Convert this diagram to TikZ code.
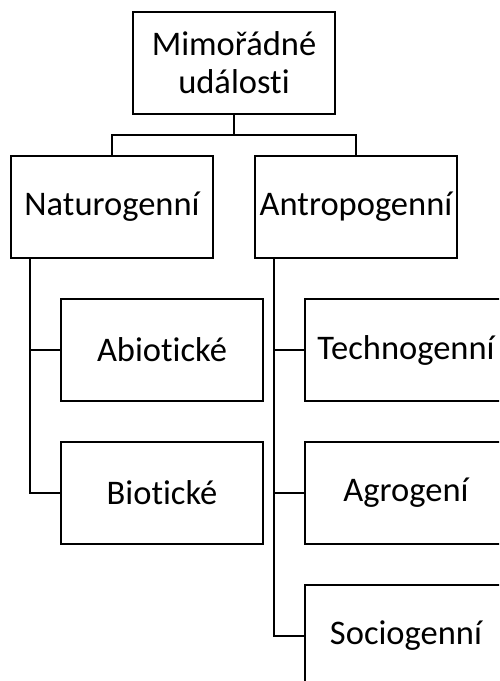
\documentclass[tikz,border=0pt]{standalone}
\usepackage{fontspec}
\setmainfont{Carlito}[Ligatures=NoCommon]
\usepackage{tikz}
\tikzset{
  catbox/.style={draw, line width=1.6pt, minimum width=202pt, minimum height=102pt,
    inner sep=0pt, align=center, font=\fontsize{34.5}{38}\selectfont},
  link/.style={line width=1.6pt}
}

\begin{document}
\begin{tikzpicture}[x=1pt,y=-1pt]
\useasboundingbox (0,0) rectangle (499,681);
\clip (0,0) rectangle (499,681);

% Boxes
\node[catbox] (mim) at (234,63) {Mimořádné\\události};
\node[catbox] (nat) at (112,207) {Naturogenní};
\node[catbox] (ant) at (356,207) {Antropogenní};

\node[catbox] (abio) at (162,350) {Abiotické};
\node[catbox] (bio) at (162,493) {Biotické};

\node[catbox] (tech) at (406,350) {Technogenní};
\node[catbox] (agro) at (406,493) {Agrogení};
\node[catbox] (soc) at (406,636) {Sociogenní};

% Top split
\coordinate (split) at (234,135);
\draw[link] (mim.south) -- (split);
\draw[link] (nat.north) |- (split) -| (ant.north);

% Spines
\coordinate (natl) at ([xshift=20pt]nat.south west);
\coordinate (antl) at ([xshift=20pt]ant.south west);
\draw[link] (natl) |- (bio.west);
\draw[link] (abio.west) -- (abio.west -| natl);
\draw[link] (antl) |- (soc.west);
\draw[link] (tech.west) -- (tech.west -| antl);
\draw[link] (agro.west) -- (agro.west -| antl);
\end{tikzpicture}
\end{document}
